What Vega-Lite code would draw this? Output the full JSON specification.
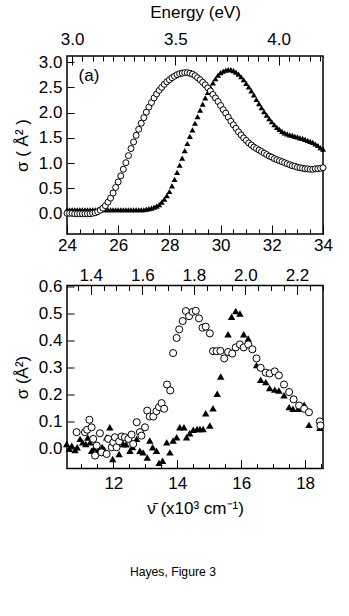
{
  "$schema": "https://vega.github.io/schema/vega-lite/v6.json",
  "background": "white",
  "padding": {"left": 12, "top": 2, "right": 10, "bottom": 5},
  "spacing": 2.5,
  "config": {
    "font": "Liberation Sans",
    "view": {"stroke": "black", "strokeWidth": 1.5},
    "axis": {
      "domain": false, "grid": false, "labelOverlap": false, "ticks": true,
      "labelFont": "Liberation Sans", "labelFontSize": 17, "labelColor": "black",
      "tickColor": "black", "tickWidth": 1, "tickOpacity": 1, "zindex": 1,
      "titleFont": "Liberation Sans", "titleFontSize": 17, "titleFontWeight": "normal", "titleColor": "black"
    },
    "title": {"font": "Liberation Sans", "fontWeight": "normal", "color": "black"}
  },
  "title": {"text": "Hayes, Figure 3", "orient": "bottom", "offset": 49, "fontSize": 12.2, "anchor": "middle"},
  "datasets": {
    "topT": [
      {"nu":24.0,"sigma":0.08},{"nu":24.1,"sigma":0.08},{"nu":24.2,"sigma":0.08},{"nu":24.3,"sigma":0.08},{"nu":24.4,"sigma":0.08},{"nu":24.5,"sigma":0.08},{"nu":24.6,"sigma":0.08},{"nu":24.7,"sigma":0.08},{"nu":24.8,"sigma":0.08},{"nu":24.9,"sigma":0.08},
      {"nu":25.0,"sigma":0.08},{"nu":25.1,"sigma":0.08},{"nu":25.2,"sigma":0.08},{"nu":25.3,"sigma":0.08},{"nu":25.4,"sigma":0.08},{"nu":25.5,"sigma":0.08},{"nu":25.6,"sigma":0.08},{"nu":25.7,"sigma":0.08},{"nu":25.8,"sigma":0.08},{"nu":25.9,"sigma":0.08},
      {"nu":26.0,"sigma":0.08},{"nu":26.1,"sigma":0.08},{"nu":26.2,"sigma":0.08},{"nu":26.3,"sigma":0.08},{"nu":26.4,"sigma":0.08},{"nu":26.5,"sigma":0.08},{"nu":26.6,"sigma":0.08},{"nu":26.7,"sigma":0.08},{"nu":26.8,"sigma":0.08},{"nu":26.9,"sigma":0.08},
      {"nu":27.0,"sigma":0.08},{"nu":27.1,"sigma":0.09},{"nu":27.2,"sigma":0.1},{"nu":27.3,"sigma":0.11},{"nu":27.4,"sigma":0.13},{"nu":27.5,"sigma":0.15},{"nu":27.6,"sigma":0.18},{"nu":27.7,"sigma":0.23},{"nu":27.8,"sigma":0.29},{"nu":27.9,"sigma":0.36},
      {"nu":28.0,"sigma":0.44},{"nu":28.1,"sigma":0.55},{"nu":28.2,"sigma":0.68},{"nu":28.3,"sigma":0.82},{"nu":28.4,"sigma":0.96},{"nu":28.5,"sigma":1.1},{"nu":28.6,"sigma":1.25},{"nu":28.7,"sigma":1.39},{"nu":28.8,"sigma":1.53},{"nu":28.9,"sigma":1.66},
      {"nu":29.0,"sigma":1.79},{"nu":29.1,"sigma":1.92},{"nu":29.2,"sigma":2.05},{"nu":29.3,"sigma":2.17},{"nu":29.4,"sigma":2.29},{"nu":29.5,"sigma":2.4},{"nu":29.6,"sigma":2.5},{"nu":29.7,"sigma":2.59},{"nu":29.8,"sigma":2.67},{"nu":29.9,"sigma":2.74},
      {"nu":30.0,"sigma":2.79},{"nu":30.1,"sigma":2.82},{"nu":30.2,"sigma":2.84},{"nu":30.3,"sigma":2.85},{"nu":30.4,"sigma":2.85},{"nu":30.5,"sigma":2.83},{"nu":30.6,"sigma":2.8},{"nu":30.7,"sigma":2.76},{"nu":30.8,"sigma":2.71},{"nu":30.9,"sigma":2.65},
      {"nu":31.0,"sigma":2.58},{"nu":31.1,"sigma":2.51},{"nu":31.2,"sigma":2.43},{"nu":31.3,"sigma":2.35},{"nu":31.4,"sigma":2.26},{"nu":31.5,"sigma":2.18},{"nu":31.6,"sigma":2.1},{"nu":31.7,"sigma":2.02},{"nu":31.8,"sigma":1.95},{"nu":31.9,"sigma":1.88},
      {"nu":32.0,"sigma":1.82},{"nu":32.1,"sigma":1.76},{"nu":32.2,"sigma":1.71},{"nu":32.3,"sigma":1.67},{"nu":32.4,"sigma":1.63},{"nu":32.5,"sigma":1.6},{"nu":32.6,"sigma":1.58},{"nu":32.7,"sigma":1.56},{"nu":32.8,"sigma":1.55},{"nu":32.9,"sigma":1.53},
      {"nu":33.0,"sigma":1.52},{"nu":33.1,"sigma":1.5},{"nu":33.2,"sigma":1.49},{"nu":33.3,"sigma":1.47},{"nu":33.4,"sigma":1.45},{"nu":33.5,"sigma":1.43},{"nu":33.6,"sigma":1.41},{"nu":33.7,"sigma":1.38},{"nu":33.8,"sigma":1.35},{"nu":33.9,"sigma":1.31},
      {"nu":34.0,"sigma":1.28}
    ],
    "topC": [
      {"nu":24.0,"sigma":0.01},{"nu":24.1,"sigma":0.01},{"nu":24.2,"sigma":0.01},{"nu":24.3,"sigma":0.0},{"nu":24.4,"sigma":0.0},{"nu":24.5,"sigma":0.0},{"nu":24.6,"sigma":0.0},{"nu":24.7,"sigma":0.0},{"nu":24.8,"sigma":0.0},{"nu":24.9,"sigma":0.0},
      {"nu":25.0,"sigma":0.01},{"nu":25.1,"sigma":0.02},{"nu":25.2,"sigma":0.04},{"nu":25.3,"sigma":0.07},{"nu":25.4,"sigma":0.11},{"nu":25.5,"sigma":0.16},{"nu":25.6,"sigma":0.23},{"nu":25.7,"sigma":0.31},{"nu":25.8,"sigma":0.41},{"nu":25.9,"sigma":0.52},
      {"nu":26.0,"sigma":0.63},{"nu":26.1,"sigma":0.75},{"nu":26.2,"sigma":0.88},{"nu":26.3,"sigma":1.01},{"nu":26.4,"sigma":1.15},{"nu":26.5,"sigma":1.29},{"nu":26.6,"sigma":1.42},{"nu":26.7,"sigma":1.55},{"nu":26.8,"sigma":1.67},{"nu":26.9,"sigma":1.79},
      {"nu":27.0,"sigma":1.9},{"nu":27.1,"sigma":2.01},{"nu":27.2,"sigma":2.11},{"nu":27.3,"sigma":2.2},{"nu":27.4,"sigma":2.29},{"nu":27.5,"sigma":2.37},{"nu":27.6,"sigma":2.44},{"nu":27.7,"sigma":2.5},{"nu":27.8,"sigma":2.56},{"nu":27.9,"sigma":2.61},
      {"nu":28.0,"sigma":2.65},{"nu":28.1,"sigma":2.69},{"nu":28.2,"sigma":2.72},{"nu":28.3,"sigma":2.75},{"nu":28.4,"sigma":2.77},{"nu":28.5,"sigma":2.78},{"nu":28.6,"sigma":2.79},{"nu":28.7,"sigma":2.79},{"nu":28.8,"sigma":2.78},{"nu":28.9,"sigma":2.76},
      {"nu":29.0,"sigma":2.73},{"nu":29.1,"sigma":2.69},{"nu":29.2,"sigma":2.65},{"nu":29.3,"sigma":2.6},{"nu":29.4,"sigma":2.55},{"nu":29.5,"sigma":2.49},{"nu":29.6,"sigma":2.43},{"nu":29.7,"sigma":2.36},{"nu":29.8,"sigma":2.29},{"nu":29.9,"sigma":2.22},
      {"nu":30.0,"sigma":2.14},{"nu":30.1,"sigma":2.06},{"nu":30.2,"sigma":1.99},{"nu":30.3,"sigma":1.91},{"nu":30.4,"sigma":1.83},{"nu":30.5,"sigma":1.76},{"nu":30.6,"sigma":1.69},{"nu":30.7,"sigma":1.62},{"nu":30.8,"sigma":1.56},{"nu":30.9,"sigma":1.5},
      {"nu":31.0,"sigma":1.45},{"nu":31.1,"sigma":1.4},{"nu":31.2,"sigma":1.36},{"nu":31.3,"sigma":1.32},{"nu":31.4,"sigma":1.29},{"nu":31.5,"sigma":1.26},{"nu":31.6,"sigma":1.23},{"nu":31.7,"sigma":1.2},{"nu":31.8,"sigma":1.17},{"nu":31.9,"sigma":1.14},
      {"nu":32.0,"sigma":1.12},{"nu":32.1,"sigma":1.09},{"nu":32.2,"sigma":1.07},{"nu":32.3,"sigma":1.05},{"nu":32.4,"sigma":1.03},{"nu":32.5,"sigma":1.01},{"nu":32.6,"sigma":0.99},{"nu":32.7,"sigma":0.97},{"nu":32.8,"sigma":0.95},{"nu":32.9,"sigma":0.94},
      {"nu":33.0,"sigma":0.92},{"nu":33.1,"sigma":0.91},{"nu":33.2,"sigma":0.9},{"nu":33.3,"sigma":0.89},{"nu":33.4,"sigma":0.89},{"nu":33.5,"sigma":0.88},{"nu":33.6,"sigma":0.88},{"nu":33.7,"sigma":0.89},{"nu":33.8,"sigma":0.89},{"nu":33.9,"sigma":0.9},
      {"nu":34.0,"sigma":0.91}
    ],
    "topLabel": [{"nu": 24.45, "sigma": 2.72, "text": "(a)"}],
    "topEv": [{"ev": 3.0}, {"ev": 4.0}],
    "botEv": [{"ev": 1.4}, {"ev": 2.2}],
    "botC": [
      {"nu":10.85,"sigma":0.06},{"nu":11.11,"sigma":0.06},{"nu":11.18,"sigma":0.069},{"nu":11.25,"sigma":0.106},{"nu":11.32,"sigma":0.078},{"nu":11.37,"sigma":0.035},{"nu":11.43,"sigma":-0.027},{"nu":11.48,"sigma":0.01},{"nu":11.58,"sigma":0.056},{"nu":11.63,"sigma":-0.015},
      {"nu":11.79,"sigma":-0.021},{"nu":11.84,"sigma":0.035},{"nu":11.95,"sigma":0.004},{"nu":12.0,"sigma":0.022},{"nu":12.05,"sigma":0.041},{"nu":12.1,"sigma":0.004},{"nu":12.18,"sigma":0.026},{"nu":12.26,"sigma":0.044},{"nu":12.36,"sigma":0.041},{"nu":12.47,"sigma":0.035},
      {"nu":12.57,"sigma":0.051},{"nu":12.62,"sigma":0.016},{"nu":12.73,"sigma":0.097},{"nu":12.83,"sigma":0.06},{"nu":12.88,"sigma":0.047},{"nu":12.99,"sigma":0.078},{"nu":13.06,"sigma":0.14},{"nu":13.14,"sigma":0.118},{"nu":13.25,"sigma":0.118},{"nu":13.35,"sigma":0.138},
      {"nu":13.43,"sigma":0.153},{"nu":13.51,"sigma":0.168},{"nu":13.59,"sigma":0.147},{"nu":13.68,"sigma":0.237},{"nu":13.78,"sigma":0.215},{"nu":13.87,"sigma":0.354},{"nu":13.98,"sigma":0.41},{"nu":14.06,"sigma":0.442},{"nu":14.17,"sigma":0.473},{"nu":14.27,"sigma":0.51},
      {"nu":14.37,"sigma":0.491},{"nu":14.48,"sigma":0.507},{"nu":14.58,"sigma":0.511},{"nu":14.68,"sigma":0.483},{"nu":14.79,"sigma":0.448},{"nu":14.89,"sigma":0.452},{"nu":15.02,"sigma":0.427},{"nu":15.12,"sigma":0.361},{"nu":15.23,"sigma":0.361},{"nu":15.35,"sigma":0.362},
      {"nu":15.47,"sigma":0.334},{"nu":15.59,"sigma":0.358},{"nu":15.72,"sigma":0.352},{"nu":15.83,"sigma":0.375},{"nu":15.96,"sigma":0.386},{"nu":16.08,"sigma":0.375},{"nu":16.22,"sigma":0.386},{"nu":16.35,"sigma":0.368},{"nu":16.48,"sigma":0.334},{"nu":16.61,"sigma":0.299},
      {"nu":16.77,"sigma":0.281},{"nu":16.89,"sigma":0.278},{"nu":17.05,"sigma":0.286},{"nu":17.18,"sigma":0.271},{"nu":17.34,"sigma":0.237},{"nu":17.5,"sigma":0.209},{"nu":17.64,"sigma":0.182},{"nu":17.81,"sigma":0.159},{"nu":17.97,"sigma":0.147},{"nu":18.12,"sigma":0.134},
      {"nu":18.46,"sigma":0.1},{"nu":18.48,"sigma":0.085}
    ],
    "botT": [
      {"nu":10.54,"sigma":0.016},{"nu":10.62,"sigma":-0.002},{"nu":10.7,"sigma":0.01},{"nu":10.8,"sigma":-0.006},{"nu":10.87,"sigma":0.004},{"nu":10.96,"sigma":0.035},{"nu":11.04,"sigma":0.022},{"nu":11.14,"sigma":0.016},{"nu":11.2,"sigma":0.04},{"nu":11.27,"sigma":0.022},
      {"nu":11.32,"sigma":-0.009},{"nu":11.4,"sigma":0.0},{"nu":11.48,"sigma":0.01},{"nu":11.55,"sigma":-0.005},{"nu":11.65,"sigma":0.005},{"nu":11.72,"sigma":-0.005},{"nu":11.79,"sigma":0.041},{"nu":11.89,"sigma":0.078},{"nu":11.98,"sigma":-0.04},{"nu":12.05,"sigma":0.01},
      {"nu":12.18,"sigma":-0.021},{"nu":12.31,"sigma":0.016},{"nu":12.4,"sigma":0.015},{"nu":12.52,"sigma":-0.009},{"nu":12.6,"sigma":0.005},{"nu":12.73,"sigma":0.035},{"nu":12.83,"sigma":-0.009},{"nu":12.93,"sigma":-0.015},{"nu":13.06,"sigma":-0.034},{"nu":13.14,"sigma":0.029},
      {"nu":13.23,"sigma":0.004},{"nu":13.35,"sigma":-0.009},{"nu":13.43,"sigma":-0.054},{"nu":13.54,"sigma":-0.046},{"nu":13.67,"sigma":0.022},{"nu":13.77,"sigma":-0.015},{"nu":13.87,"sigma":0.029},{"nu":13.98,"sigma":0.041},{"nu":14.08,"sigma":0.078},{"nu":14.21,"sigma":0.078},
      {"nu":14.29,"sigma":0.041},{"nu":14.39,"sigma":0.056},{"nu":14.5,"sigma":0.069},{"nu":14.62,"sigma":0.072},{"nu":14.71,"sigma":0.072},{"nu":14.81,"sigma":0.072},{"nu":14.89,"sigma":0.13},{"nu":15.02,"sigma":0.085},{"nu":15.12,"sigma":0.149},{"nu":15.25,"sigma":0.203},
      {"nu":15.36,"sigma":0.267},{"nu":15.59,"sigma":0.424},{"nu":15.7,"sigma":0.489},{"nu":15.83,"sigma":0.51},{"nu":15.96,"sigma":0.501},{"nu":16.08,"sigma":0.424},{"nu":16.22,"sigma":0.408},{"nu":16.35,"sigma":0.37},{"nu":16.48,"sigma":0.309},{"nu":16.61,"sigma":0.255},
      {"nu":16.77,"sigma":0.246},{"nu":16.89,"sigma":0.224},{"nu":17.05,"sigma":0.218},{"nu":17.18,"sigma":0.215},{"nu":17.34,"sigma":0.197},{"nu":17.5,"sigma":0.153},{"nu":17.62,"sigma":0.147},{"nu":17.78,"sigma":0.147},{"nu":17.97,"sigma":0.162},{"nu":18.12,"sigma":0.087},
      {"nu":18.46,"sigma":0.076}
    ]
  },
  "vconcat": [
    {
      "width": 256, "height": 178,
      "layer": [
        {
          "layer": [
            {
              "data": {"name": "topT"},
              "mark": {"type": "point", "shape": "triangle-up", "filled": true, "color": "black", "size": 36, "opacity": 1},
              "encoding": {
                "x": {"field": "nu", "type": "quantitative", "scale": {"domain": [24, 34], "nice": false, "zero": false},
                  "axis": {"orient": "bottom", "title": null, "labelOverlap": false, "tickCount": 100,
                    "values": [24,24.5,25,25.5,26,26.5,27,27.5,28,28.5,29,29.5,30,30.5,31,31.5,32,32.5,33,33.5,34],
                    "labelExpr": "datum.value % 2 === 0 ? format(datum.value, 'd') : ''",
                    "tickSize": {"condition": {"test": "datum.value % 2 === 0", "value": -9}, "value": -5},
                    "labelPadding": 12.5, "labelFlush": false}},
                "y": {"field": "sigma", "type": "quantitative", "scale": {"domain": [-0.4, 3.12], "nice": false, "zero": false},
                  "axis": {"title": "σ ( Å² )", "values": [0, 0.5, 1, 1.5, 2, 2.5, 3], "tickCount": 100, "format": ".1f", "tickSize": -7, "labelPadding": 12, "titlePadding": 7, "labelFlush": false, "labelOverlap": false}}
              }
            },
            {
              "data": {"name": "topC"},
              "mark": {"type": "point", "shape": "circle", "filled": true, "fill": "white", "stroke": "black", "strokeWidth": 1, "size": 36, "opacity": 1},
              "encoding": {
                "x": {"field": "nu", "type": "quantitative"},
                "y": {"field": "sigma", "type": "quantitative"}
              }
            },
            {
              "data": {"name": "topLabel"},
              "mark": {"type": "text", "align": "left", "baseline": "middle", "fontSize": 17, "color": "black"},
              "encoding": {
                "x": {"field": "nu", "type": "quantitative"},
                "y": {"field": "sigma", "type": "quantitative"},
                "text": {"field": "text"}
              }
            }
          ]
        },
        {
          "data": {"name": "topEv"},
          "mark": {"type": "point", "opacity": 0},
          "encoding": {
            "x": {"field": "ev", "type": "quantitative", "scale": {"domain": [2.97552, 4.21532], "nice": false, "zero": false},
              "axis": {"orient": "top", "title": "Energy (eV)", "titlePadding": 5, "labelOverlap": false, "tickCount": 100,
                "values": [3.0,3.05,3.1,3.15,3.2,3.25,3.3,3.35,3.4,3.45,3.5,3.55,3.6,3.65,3.7,3.75,3.8,3.85,3.9,3.95,4.0,4.05,4.1,4.15,4.2],
                "labelExpr": "abs(datum.value*2 - round(datum.value*2)) < 0.001 ? format(datum.value, '.1f') : ''",
                "tickSize": {"condition": {"test": "abs(datum.value*2 - round(datum.value*2)) < 0.001", "value": -9}, "value": -5},
                "labelPadding": 16.5, "labelFlush": false}}
          }
        }
      ],
      "resolve": {"scale": {"x": "independent"}, "axis": {"x": "independent"}}
    },
    {
      "width": 256, "height": 183,
      "layer": [
        {
          "layer": [
            {
              "data": {"name": "botT"},
              "mark": {"type": "point", "shape": "triangle-up", "filled": true, "color": "black", "size": 55, "opacity": 1},
              "encoding": {
                "x": {"field": "nu", "type": "quantitative", "scale": {"domain": [10.55, 18.56], "nice": false, "zero": false},
                  "axis": {"orient": "bottom", "title": "ν̄ (x10³ cm⁻¹)", "titlePadding": 5, "labelOverlap": false, "tickCount": 100,
                    "values": [11,11.5,12,12.5,13,13.5,14,14.5,15,15.5,16,16.5,17,17.5,18,18.5],
                    "labelExpr": "datum.value % 2 === 0 ? format(datum.value, 'd') : ''",
                    "tickSize": {"condition": {"test": "datum.value % 2 === 0", "value": -9}, "value": -5},
                    "labelPadding": 16, "labelFlush": false}},
                "y": {"field": "sigma", "type": "quantitative", "scale": {"domain": [-0.075, 0.605], "nice": false, "zero": false},
                  "axis": {"title": "σ (Å²)", "values": [0, 0.1, 0.2, 0.3, 0.4, 0.5, 0.6], "tickCount": 100, "format": ".1f", "tickSize": -7, "labelPadding": 12, "titlePadding": 7, "labelFlush": false, "labelOverlap": false}}
              }
            },
            {
              "data": {"name": "botC"},
              "mark": {"type": "point", "shape": "circle", "filled": true, "fill": "white", "stroke": "black", "strokeWidth": 1, "size": 50, "opacity": 1},
              "encoding": {
                "x": {"field": "nu", "type": "quantitative"},
                "y": {"field": "sigma", "type": "quantitative"}
              }
            }
          ]
        },
        {
          "data": {"name": "botEv"},
          "mark": {"type": "point", "opacity": 0},
          "encoding": {
            "x": {"field": "ev", "type": "quantitative", "scale": {"domain": [1.30799, 2.30107], "nice": false, "zero": false},
              "axis": {"orient": "top", "title": null, "labelOverlap": false, "tickCount": 100,
                "values": [1.35,1.4,1.45,1.5,1.55,1.6,1.65,1.7,1.75,1.8,1.85,1.9,1.95,2.0,2.05,2.1,2.15,2.2,2.25,2.3],
                "labelExpr": "abs(datum.value*5 - round(datum.value*5)) < 0.001 ? format(datum.value, '.1f') : ''",
                "tickSize": {"condition": {"test": "abs(datum.value*5 - round(datum.value*5)) < 0.001", "value": -9}, "value": -5},
                "labelPadding": 10, "labelFlush": false}}
          }
        }
      ],
      "resolve": {"scale": {"x": "independent"}, "axis": {"x": "independent"}}
    }
  ]
}
